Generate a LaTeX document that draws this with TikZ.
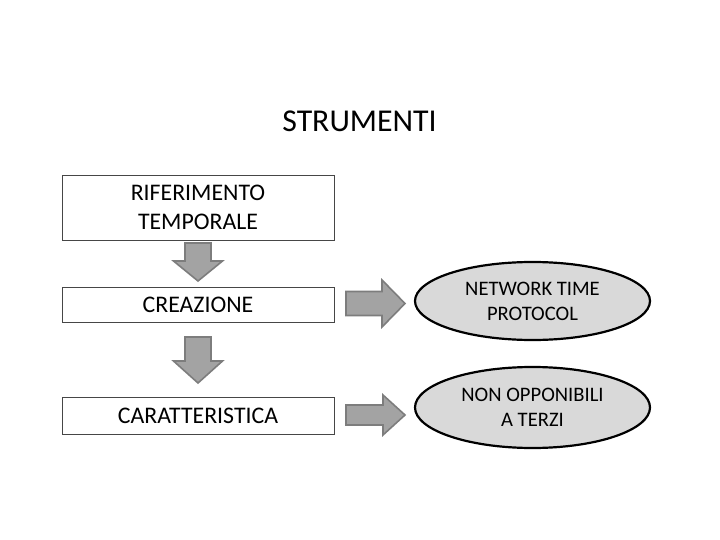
\documentclass[tikz,border=0pt]{standalone}
\usepackage{fontspec}
\setmainfont{Carlito}
\usetikzlibrary{shapes.geometric}
\definecolor{arrfill}{RGB}{163,163,163}
\definecolor{arrline}{RGB}{125,125,125}
\definecolor{ellfill}{RGB}{217,217,217}
\definecolor{boxline}{RGB}{70,70,70}
\tikzset{
  textbox/.style={draw=boxline, line width=0.9pt, fill=white, minimum width=272pt,
    inner sep=0pt, align=center, font=\fontsize{23.8}{28.5}\selectfont},
  ellbox/.style={ellipse, draw=black, line width=2.2pt, fill=ellfill, minimum width=235pt,
    inner sep=0pt, align=center, font=\fontsize{20.6}{25}\selectfont},
  blockarrow/.style={fill=arrfill, draw=arrline, line width=1.6pt, line join=miter},
  titletext/.style={font=\fontsize{31.8}{38}\selectfont, inner sep=0pt}
}
\begin{document}
\begin{tikzpicture}[x=1pt,y=-1pt]
\path[use as bounding box] (0,0) rectangle (720,540);
\fill[white] (0,0) rectangle (720,540);

\node[titletext] (title) at (359.5,121) {STRUMENTI};

\node[textbox, minimum height=65pt] (rif) at (198,207.5) {RIFERIMENTO\\TEMPORALE};
\node[textbox, minimum height=35pt] (crea) at (198,304.5) {CREAZIONE};
\node[textbox, minimum height=37pt] (car) at (198,415.5) {CARATTERISTICA};

\node[ellbox, minimum height=78pt] (ntp) at (532.5,301) {NETWORK TIME\\PROTOCOL};
\node[ellbox, minimum height=81pt] (non) at (532.5,407.5) {NON OPPONIBILI\\A TERZI};

% down arrows
\draw[blockarrow] (185,243) -- (211,243) -- (211,261) -- (222.5,261) -- (198,281)
  -- (173.5,261) -- (185,261) -- cycle;
\draw[blockarrow] (185,337) -- (211,337) -- (211,361) -- (222.5,361) -- (198,383)
  -- (173.5,361) -- (185,361) -- cycle;

% right arrows
\draw[blockarrow] (346,291.5) -- (382,291.5) -- (382,280) -- (405,303.5) -- (382,327)
  -- (382,315.5) -- (346,315.5) -- cycle;
\draw[blockarrow] (346,405) -- (383,405) -- (383,395) -- (405,415) -- (383,435)
  -- (383,425) -- (346,425) -- cycle;
\end{tikzpicture}
\end{document}
